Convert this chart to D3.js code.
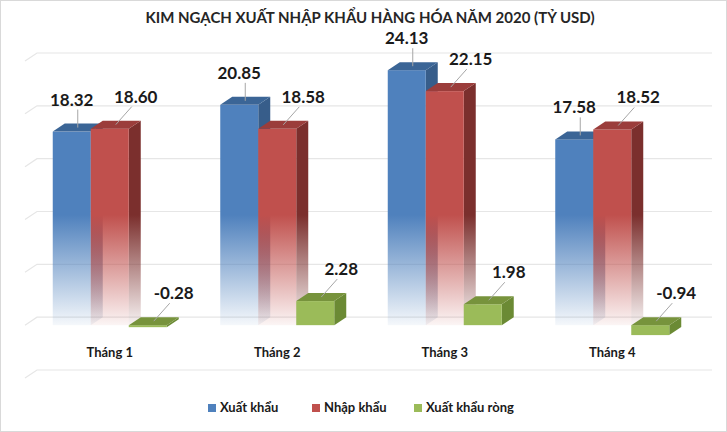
<!DOCTYPE html><html><head><meta charset="utf-8"><script src="https://cdn.jsdelivr.net/npm/d3@7"></script>
<style>body{margin:0;background:#fff}text{font-family:Lato,"Open Sans",sans-serif}</style></head><body>
<svg id="c" width="727" height="432"></svg>
<script>
const categories=["Tháng 1","Tháng 2","Tháng 3","Tháng 4"];
const seriesNames=["Xuất khẩu","Nhập khẩu","Xuất khẩu ròng"];
const xuatKhau=[18.32,20.85,24.13,17.58];
const nhapKhau=[18.60,18.58,22.15,18.52];
const xkRong=[-0.28,2.28,1.98,-0.94];
const ticks=[-5,0,5,10,15,20,25];
const svg=d3.select("#c");
svg.append("rect").attr("x",0.5).attr("y",0.5).attr("width",726).attr("height",431).attr("fill","#fff").attr("stroke","#d9d9d9");
svg.append("text").attr("x",370).attr("y",23).attr("text-anchor","middle").attr("font-weight","bold").attr("font-size",15).attr("fill","#262626").text("KIM NGẠCH XUẤT NHẬP KHẨU HÀNG HÓA NĂM 2020 (TỶ USD)");
const DX=12,DY=8;
const y=d3.scaleLinear().domain([-5,25]).range([370,53]);
const x0=d3.scaleBand().domain(categories).range([30,700]).paddingInner(0).paddingOuter(0);
const x1=d3.scaleBand().domain([0,1,2]).range([0,114]);
const colors=[{f:"#4F81BD",t:"#3b6596",s:"#375d8a"},{f:"#C0504D",t:"#9b3d3b",s:"#7b2f2d"},{f:"#9BBB59",t:"#77933c",s:"#6b8a34"}];
const defs=svg.append("defs");
colors.forEach((c,i)=>{const g=defs.append("linearGradient").attr("id","g"+i).attr("gradientUnits","userSpaceOnUse").attr("x1",0).attr("x2",0).attr("y1",215).attr("y2",326);
g.append("stop").attr("offset",0).attr("stop-color",c.f);g.append("stop").attr("offset",1).attr("stop-color",c.f).attr("stop-opacity",i==2?1:0.05);
const s=defs.append("linearGradient").attr("id","s"+i).attr("gradientUnits","userSpaceOnUse").attr("x1",0).attr("x2",0).attr("y1",215).attr("y2",326);
s.append("stop").attr("offset",0).attr("stop-color",c.s);s.append("stop").attr("offset",1).attr("stop-color",c.s).attr("stop-opacity",i==2?1:0.05);});
ticks.forEach(t=>{const yy=y(t);svg.append("path").attr("d",`M${25},${yy+DY}L${25+DX},${yy}L${712},${yy}`).attr("fill","none").attr("stroke","#e6e6e6").attr("stroke-width",1.2);});
const data=[xuatKhau,nhapKhau,xkRong];
const front=v=>y(v)+DY;
categories.forEach((cat,ci)=>{
  const gx=x0(cat)+(x0.bandwidth()-114-DX)/2+2;
  [0,1,2].forEach(si=>{
    const v=data[si][ci],c=colors[si];
    const xl=gx+x1(si),w=x1.bandwidth();
    let top=front(Math.max(v,0)),bot=front(Math.min(v,0));
    if(si==2&&Math.abs(bot-top)<3){bot=top+2;}
    const g=svg.append("g");
    g.append("path").attr("d",`M${xl+w},${top}L${xl+w+DX},${top-DY}L${xl+w+DX},${bot-DY}L${xl+w},${bot}Z`).attr("fill",`url(#s${si})`);
    g.append("rect").attr("x",xl).attr("y",top).attr("width",w).attr("height",bot-top).attr("fill",`url(#g${si})`);
    g.append("path").attr("d",`M${xl},${top}L${xl+DX},${top-DY}L${xl+w+DX},${top-DY}L${xl+w},${top}Z`).attr("fill",c.t);
    const cx=xl+w/2+DX/2, cy=top-DY/2;
    const off=si==0?0:16;
    const ty=cy-22;
    svg.append("line").attr("x1",cx).attr("y1",cy).attr("x2",cx+off).attr("y2",ty+4).attr("stroke","#a6a6a6");
    svg.append("text").attr("x",cx+off-(si==0?6:-4)).attr("y",ty).attr("text-anchor","middle").attr("font-size",17).attr("font-weight","bold").attr("fill","#1a1a1a").text(v.toFixed(2));
  });
  svg.append("text").attr("x",gx+57).attr("y",357).attr("text-anchor","middle").attr("font-size",13).attr("font-weight","bold").attr("fill","#1a1a1a").text(cat);
});
const lx=[208,312,414];
seriesNames.forEach((n,i)=>{svg.append("rect").attr("x",lx[i]).attr("y",404).attr("width",8).attr("height",8).attr("fill",colors[i].f);
svg.append("text").attr("x",lx[i]+12).attr("y",412).attr("font-size",13).attr("font-weight","bold").attr("fill","#1a1a1a").text(n);});
</script></body></html>
